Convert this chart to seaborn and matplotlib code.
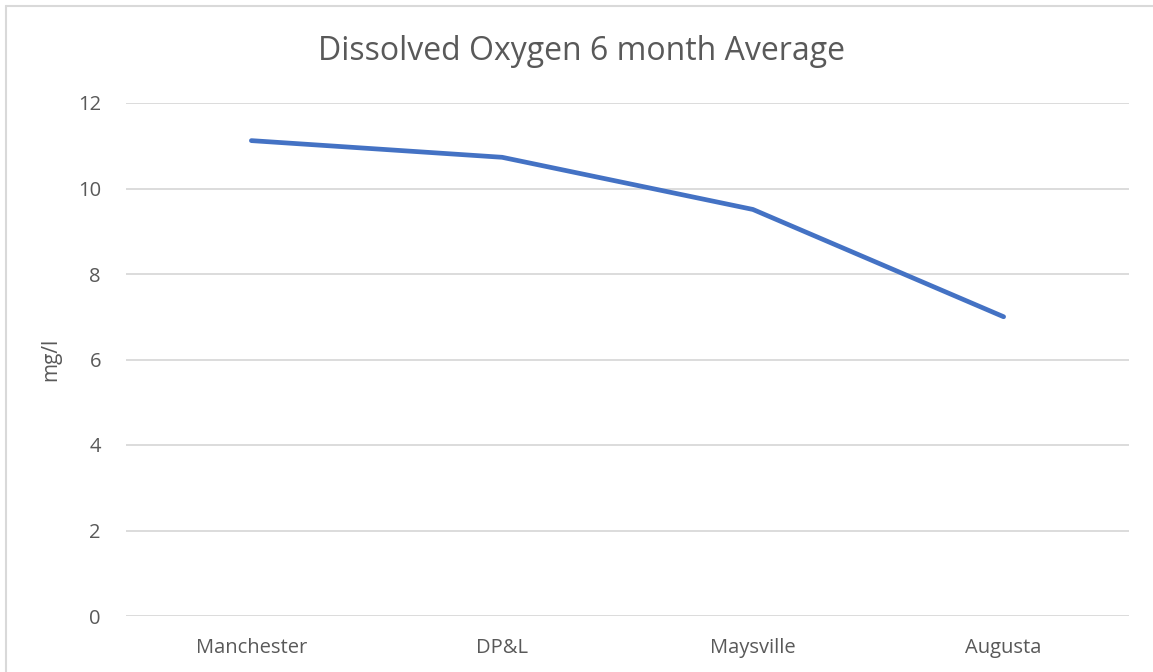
import matplotlib
matplotlib.use("Agg")
import matplotlib.pyplot as plt
import seaborn as sns
import pandas as pd
from matplotlib.lines import Line2D

# values
sites = ["Manchester", "DP&L", "Maysville", "Augusta"]
do_avg = [11.12, 10.73, 9.51, 7.0]
y_ticks = [0, 2, 4, 6, 8, 10, 12]

df = pd.DataFrame({"site": sites, "mg_l": do_avg})

sns.set_theme(style="white")
plt.rcParams["font.family"] = ["Open Sans", "DejaVu Sans"]

txt = "#595959"
grid = "#D9D9D9"

fig = plt.figure(figsize=(11.53, 6.72), dpi=100)
ax = fig.add_axes([126 / 1153, 1 - 616 / 672, (1129 - 126) / 1153, (616 - 103) / 672])

sns.lineplot(data=df, x="site", y="mg_l", ax=ax, color="#4472C4", linewidth=3.4,
             sort=False, solid_capstyle="round", solid_joinstyle="round")

ax.set_xlim(-0.5, len(sites) - 0.5)
ax.set_ylim(0, 12)
ax.set_yticks(y_ticks)
ax.set_yticklabels([str(t) for t in y_ticks])
ax.yaxis.grid(True, color=grid, linewidth=1.3)
ax.set_axisbelow(True)
for s in ax.spines.values():
    s.set_visible(False)
ax.tick_params(axis="both", length=0, colors=txt, labelsize=14.5)
ax.tick_params(axis="y", pad=18)
ax.tick_params(axis="x", pad=16)

ax.set_xlabel("")
ax.set_ylabel("mg/l", color=txt, fontsize=15, labelpad=12)
fig.text(582 / 1153, 1 - 52 / 672, "Dissolved Oxygen 6 month Average",
         ha="center", va="center", color=txt, fontsize=23)

# chart area border (only left and top edges visible in the crop)
fig.add_artist(Line2D([5.5 / 1153, 5.5 / 1153], [0, 1 - 5.5 / 672],
                      transform=fig.transFigure, color=grid, linewidth=1.5))
fig.add_artist(Line2D([5.5 / 1153, 1], [1 - 5.5 / 672, 1 - 5.5 / 672],
                      transform=fig.transFigure, color=grid, linewidth=1.5))

fig.savefig("out.png", dpi=100)
